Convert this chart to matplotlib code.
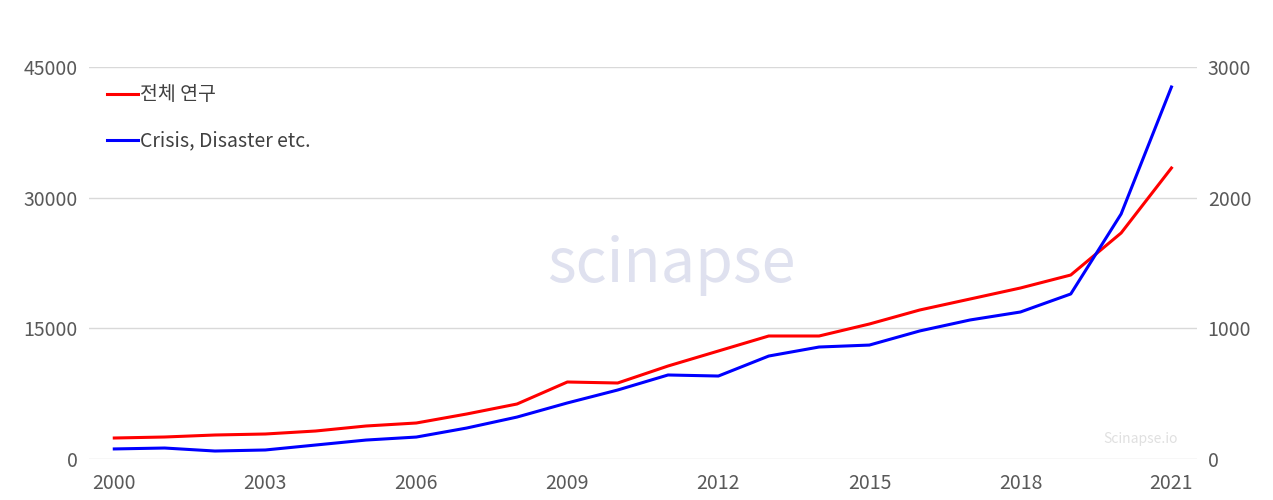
import matplotlib.pyplot as plt
from matplotlib.patches import Polygon

plt.rcParams['font.family'] = ['Noto Sans CJK KR', 'DejaVu Sans']

years = list(range(2000, 2022))
total_research = [2410, 2525, 2755, 2870, 3214, 3788, 4133, 5166, 6314, 8839, 8724,
                  10676, 12398, 14120, 14120, 15497, 17105, 18367, 19630, 21122, 25944, 33406]
crisis_disaster = [77, 84, 61, 69, 107, 145, 168, 237, 321, 429, 528,
                   643, 635, 788, 857, 872, 980, 1064, 1125, 1263, 1875, 2847]
left_ticks = [0, 15000, 30000, 45000]
right_ticks = [0, 1000, 2000, 3000]
x_ticks = [2000, 2003, 2006, 2009, 2012, 2015, 2018, 2021]

fig = plt.figure(figsize=(12.73, 5.0), dpi=100)
ax = fig.add_axes([0.07, 0.082, 0.87, 0.784])
ax2 = ax.twinx()

ax.set_ylim(0, 45000)
ax2.set_ylim(0, 3000)
ax.set_xlim(1999.5, 2021.5)
ax.set_yticks(left_ticks)
ax2.set_yticks(right_ticks)
ax.set_xticks(x_ticks)
ax.grid(axis='y', color='#d9d9d9', linewidth=1)
ax.set_axisbelow(True)
for a in (ax, ax2):
    for s in a.spines.values():
        s.set_visible(False)
    a.tick_params(length=0, labelsize=14, colors='#595959', pad=8)
ax.tick_params(axis='x', pad=10)

l1, = ax.plot(years, total_research, color='#ff0000', linewidth=2.2, label='전체 연구')
l2, = ax2.plot(years, crisis_disaster, color='#0000ff', linewidth=2.2, label='Crisis, Disaster etc.')

ax.legend(handles=[l1, l2], loc='upper left', bbox_to_anchor=(0.0, 1.0), frameon=False,
          fontsize=14, labelspacing=1.3, handlelength=1.6, handletextpad=0.1,
          labelcolor='#404040')

# watermark
fig.text(0.43, 0.47, 'scinapse', fontsize=44, color='#dfe1ef', ha='left', va='center', zorder=0)
fig.add_artist(Polygon([[0.361, 0.445], [0.40, 0.51], [0.40, 0.555], [0.361, 0.49]],
                       closed=True, transform=fig.transFigure, color='#e4e7fa', zorder=0))
fig.add_artist(Polygon([[0.377, 0.395], [0.416, 0.46], [0.416, 0.505], [0.377, 0.44]],
                       closed=True, transform=fig.transFigure, color='#eef0fc', zorder=0))
fig.text(0.925, 0.115, 'Scinapse.io', fontsize=10, color='#e0e0e0', ha='right')

fig.savefig('out.png', dpi=100)
